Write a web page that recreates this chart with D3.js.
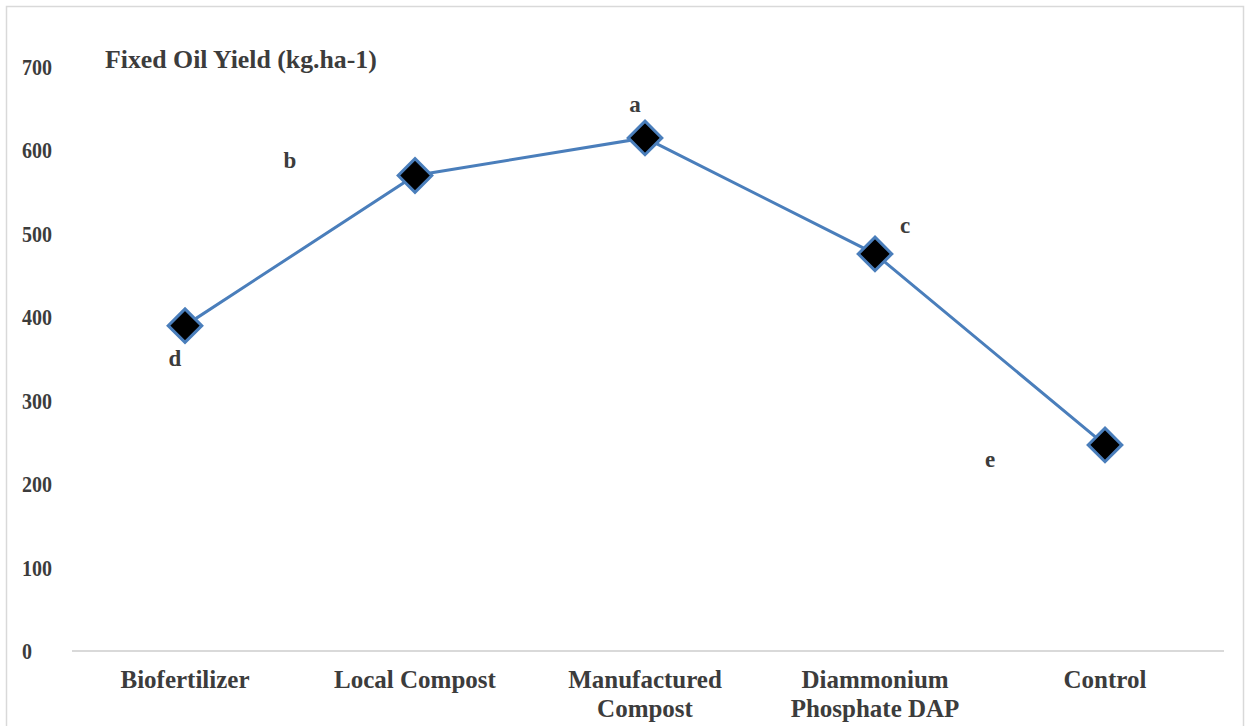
<!DOCTYPE html>
<html><head><meta charset="utf-8">
<script src="https://cdn.jsdelivr.net/npm/d3@7"></script>
<style>body{margin:0;background:#fff}svg{display:block}</style>
</head><body>
<svg id="c" width="1250" height="726"></svg>
<script>
const categories = ["Biofertilizer", "Local Compost", "Manufactured\nCompost", "Diammonium\nPhosphate DAP", "Control"];
const values = [390, 570, 615, 476, 247];
const letters = ["d", "b", "a", "c", "e"];
const yTicks = [0, 100, 200, 300, 400, 500, 600, 700];
const title = "Fixed Oil Yield (kg.ha-1)";
// label offsets from each point (pixels)
const letterOffsets = [[-10, 40], [-125, -7], [-10, -26], [30, -21], [-115, 22]];

const svg = d3.select("#c");
const font = "'Liberation Serif','Times New Roman',serif";
const textCol = "#3c3c3c";

svg.append("rect").attr("x", 6.5).attr("y", 6.5).attr("width", 1237).attr("height", 730)
  .attr("fill", "none").attr("stroke", "#d9d9d9").attr("stroke-width", 1.5);

const x = d3.scaleBand().domain(categories).range([70, 1220]);
const y = d3.scaleLinear().domain([0, 700]).range([651, 67]);

// baseline
svg.append("line").attr("x1", 72).attr("x2", 1224).attr("y1", y(0)).attr("y2", y(0))
  .attr("stroke", "#d9d9d9").attr("stroke-width", 2);

// y tick labels
svg.append("g").selectAll("text").data(yTicks).join("text")
  .attr("transform", d => `translate(22,${y(d) + 8}) scale(1,1.2)`)
  .attr("font-family", font).attr("font-weight", "bold").attr("font-size", 20)
  .attr("fill", textCol).text(d => d);

// title
svg.append("text").attr("x", 105).attr("y", 68).attr("font-family", font)
  .attr("font-weight", "bold").attr("font-size", 25.8).attr("fill", textCol).text(title);

// category labels
const cat = svg.append("g").selectAll("text").data(categories).join("text")
  .attr("text-anchor", "middle").attr("font-family", font).attr("font-weight", "bold")
  .attr("font-size", 25).attr("fill", textCol)
  .attr("transform", d => `translate(${x(d) + x.bandwidth() / 2},${688})`);
cat.selectAll("tspan").data(d => d.split("\n")).join("tspan")
  .attr("x", 0).attr("dy", (d, i) => i === 0 ? 0 : 29).text(d => d);

const pts = categories.map((c, i) => [x(c) + x.bandwidth() / 2, y(values[i])]);

svg.append("path").datum(pts).attr("d", d3.line())
  .attr("fill", "none").attr("stroke", "#4a7ebb").attr("stroke-width", 3);

svg.append("g").selectAll("path").data(pts).join("path")
  .attr("transform", d => `translate(${d[0]},${d[1]})`)
  .attr("d", d3.symbol(d3.symbolDiamond2, 720))
  .attr("fill", "#000").attr("stroke", "#4a7ebb").attr("stroke-width", 3);

svg.append("g").selectAll("text").data(pts).join("text")
  .attr("x", (d, i) => d[0] + letterOffsets[i][0]).attr("y", (d, i) => d[1] + letterOffsets[i][1])
  .attr("text-anchor", "middle").attr("font-family", font).attr("font-weight", "bold")
  .attr("font-size", 23).attr("fill", textCol).text((d, i) => letters[i]);
</script>
</body></html>
